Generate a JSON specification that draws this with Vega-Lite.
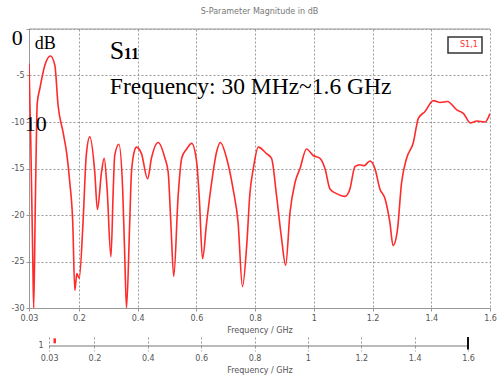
{
  "$schema": "https://vega.github.io/schema/vega-lite/v6.json",
  "background": "white",
  "padding": {"left": 10, "top": 7, "right": 5, "bottom": 2},
  "spacing": 2,
  "config": {
    "font": "DejaVu Sans",
    "view": {"stroke": null},
    "axis": {
      "labelFont": "DejaVu Sans", "labelFontSize": 8, "labelColor": "#555",
      "titleFont": "DejaVu Sans", "titleFontSize": 8, "titleColor": "#555", "titleFontWeight": "normal",
      "domainColor": "#999", "tickColor": "#999", "gridColor": "#999", "gridDash": [2, 2], "gridWidth": 1
    },
    "legend": {
      "orient": "top-right", "offset": 8, "strokeColor": "#333", "strokeWidth": 1.5, "fillColor": "white",
      "padding": 4, "labelFontSize": 8, "labelColor": "#ff3030", "labelFont": "DejaVu Sans",
      "symbolSize": 0, "symbolStrokeWidth": 0, "symbolOpacity": 0, "labelOffset": 0, "symbolOffset": 0
    }
  },
  "datasets": {
    "s11": [
      {"f": 0.030, "dB": -3.7}, {"f": 0.036, "dB": -12}, {"f": 0.043, "dB": -25}, {"f": 0.046, "dB": -30},
      {"f": 0.051, "dB": -20}, {"f": 0.055, "dB": -12}, {"f": 0.058, "dB": -8}, {"f": 0.067, "dB": -6.4},
      {"f": 0.084, "dB": -3.9}, {"f": 0.103, "dB": -2.9}, {"f": 0.118, "dB": -3.9}, {"f": 0.129, "dB": -8.2},
      {"f": 0.146, "dB": -11.1}, {"f": 0.159, "dB": -13.5}, {"f": 0.169, "dB": -16.5}, {"f": 0.179, "dB": -20.8},
      {"f": 0.186, "dB": -28.1}, {"f": 0.193, "dB": -26.3}, {"f": 0.201, "dB": -26.8}, {"f": 0.214, "dB": -20.8},
      {"f": 0.225, "dB": -13.6}, {"f": 0.237, "dB": -11.6}, {"f": 0.254, "dB": -15.4}, {"f": 0.263, "dB": -19.4},
      {"f": 0.277, "dB": -15.4}, {"f": 0.286, "dB": -13.9}, {"f": 0.296, "dB": -17.2}, {"f": 0.309, "dB": -24.5},
      {"f": 0.317, "dB": -17.2}, {"f": 0.322, "dB": -13.6}, {"f": 0.336, "dB": -12.4}, {"f": 0.349, "dB": -17.2},
      {"f": 0.356, "dB": -24.3}, {"f": 0.362, "dB": -30}, {"f": 0.373, "dB": -20.8}, {"f": 0.379, "dB": -15.4},
      {"f": 0.390, "dB": -13}, {"f": 0.396, "dB": -12.7}, {"f": 0.413, "dB": -13.4}, {"f": 0.434, "dB": -16.1},
      {"f": 0.447, "dB": -13.9}, {"f": 0.470, "dB": -12.2}, {"f": 0.493, "dB": -13.9}, {"f": 0.504, "dB": -15.4},
      {"f": 0.513, "dB": -20.8}, {"f": 0.523, "dB": -26.6}, {"f": 0.538, "dB": -17.9}, {"f": 0.550, "dB": -13.9},
      {"f": 0.567, "dB": -12.9}, {"f": 0.584, "dB": -12.3}, {"f": 0.601, "dB": -14.3}, {"f": 0.610, "dB": -18.2},
      {"f": 0.621, "dB": -24.7}, {"f": 0.635, "dB": -20.8}, {"f": 0.652, "dB": -16.5}, {"f": 0.669, "dB": -13.2},
      {"f": 0.682, "dB": -12.2}, {"f": 0.703, "dB": -13.9}, {"f": 0.725, "dB": -17.2}, {"f": 0.742, "dB": -20.8},
      {"f": 0.757, "dB": -27.7}, {"f": 0.772, "dB": -23}, {"f": 0.782, "dB": -17.8}, {"f": 0.794, "dB": -15},
      {"f": 0.811, "dB": -12.7}, {"f": 0.839, "dB": -13.4}, {"f": 0.856, "dB": -13.9}, {"f": 0.873, "dB": -17.9},
      {"f": 0.890, "dB": -22.5}, {"f": 0.904, "dB": -25.4}, {"f": 0.919, "dB": -19.7}, {"f": 0.936, "dB": -16.5},
      {"f": 0.953, "dB": -15}, {"f": 0.975, "dB": -12.9}, {"f": 0.998, "dB": -13.6}, {"f": 1.021, "dB": -13.9},
      {"f": 1.038, "dB": -15}, {"f": 1.055, "dB": -17.2}, {"f": 1.078, "dB": -17.7}, {"f": 1.106, "dB": -18},
      {"f": 1.123, "dB": -17.2}, {"f": 1.140, "dB": -14.8}, {"f": 1.157, "dB": -14.6}, {"f": 1.171, "dB": -14.7},
      {"f": 1.191, "dB": -14.2}, {"f": 1.208, "dB": -15}, {"f": 1.225, "dB": -17.2}, {"f": 1.242, "dB": -18.2},
      {"f": 1.259, "dB": -20.8}, {"f": 1.270, "dB": -23.3}, {"f": 1.284, "dB": -21.8}, {"f": 1.299, "dB": -16.5},
      {"f": 1.316, "dB": -13.9}, {"f": 1.339, "dB": -12.2}, {"f": 1.356, "dB": -9.6}, {"f": 1.378, "dB": -8.9},
      {"f": 1.407, "dB": -7.7}, {"f": 1.430, "dB": -7.9}, {"f": 1.455, "dB": -7.8}, {"f": 1.487, "dB": -8.7},
      {"f": 1.510, "dB": -9.1}, {"f": 1.533, "dB": -10.1}, {"f": 1.555, "dB": -9.9}, {"f": 1.583, "dB": -10},
      {"f": 1.600, "dB": -9.1}
    ],
    "notes": [
      {"label": "0", "f": -0.0286, "dB": -1.72, "kind": "big"},
      {"label": "10", "f": 0.0157, "dB": -10.97, "kind": "big"},
      {"label": "Frequency: 30 MHz~1.6 GHz", "f": 0.3053, "dB": -6.99, "kind": "freq"},
      {"label": "dB", "f": 0.0498, "dB": -2.15, "kind": "mid"},
      {"label": "S", "f": 0.3053, "dB": -3.23, "kind": "sym"},
      {"label": "11", "f": 0.353, "dB": -3.23, "kind": "sub"}
    ]
  },
  "vconcat": [
    {
      "width": 461,
      "height": 279,
      "title": {"text": "S-Parameter Magnitude in dB", "fontSize": 8, "color": "#777", "font": "DejaVu Sans", "fontWeight": "normal", "offset": 11},
      "layer": [
        {
          "data": {"values": [{"a": 0.03, "b": 1.6, "y": 0}]},
          "mark": {"type": "rule", "color": "#999", "strokeWidth": 1},
          "encoding": {
            "x": {"field": "a", "type": "quantitative"},
            "x2": {"field": "b"},
            "y": {"field": "y", "type": "quantitative"}
          }
        },
        {
          "data": {"name": "s11"},
          "mark": {"type": "line", "strokeWidth": 1.6, "interpolate": "monotone", "clip": true},
          "encoding": {
            "x": {
              "field": "f", "type": "quantitative",
              "scale": {"domain": [0.03, 1.6], "nice": false, "zero": false},
              "axis": {"values": [0.03, 0.2, 0.4, 0.6, 0.8, 1, 1.2, 1.4, 1.6], "labelExpr": "'' + datum.value", "title": "Frequency / GHz", "tickSize": 3, "labelPadding": 3, "titlePadding": 4, "labelFlush": false}
            },
            "y": {
              "field": "dB", "type": "quantitative",
              "scale": {"domain": [-30, 0], "nice": false, "zero": false},
              "axis": {"values": [-30, -25, -20, -15, -10, -5, 0], "labelExpr": "datum.value == 0 ? '' : '' + datum.value", "title": null, "tickSize": 3, "labelPadding": 2}
            },
            "color": {"datum": "S1,1", "scale": {"range": ["#ff2a2a"]}, "legend": {"title": null}}
          }
        },
        {
          "data": {"name": "notes"},
          "transform": [{"filter": "datum.kind == 'big'"}],
          "mark": {"type": "text", "font": "Liberation Serif", "fontSize": 22, "align": "left", "baseline": "alphabetic", "color": "black"},
          "encoding": {
            "x": {"field": "f", "type": "quantitative"},
            "y": {"field": "dB", "type": "quantitative"},
            "text": {"field": "label"}
          }
        },
        {
          "data": {"name": "notes"},
          "transform": [{"filter": "datum.kind == 'freq'"}],
          "mark": {"type": "text", "font": "Liberation Serif", "fontSize": 23.5, "align": "left", "baseline": "alphabetic", "color": "black"},
          "encoding": {
            "x": {"field": "f", "type": "quantitative"},
            "y": {"field": "dB", "type": "quantitative"},
            "text": {"field": "label"}
          }
        },
        {
          "data": {"name": "notes"},
          "transform": [{"filter": "datum.kind == 'mid'"}],
          "mark": {"type": "text", "font": "Liberation Serif", "fontSize": 18, "align": "left", "baseline": "alphabetic", "color": "black"},
          "encoding": {
            "x": {"field": "f", "type": "quantitative"},
            "y": {"field": "dB", "type": "quantitative"},
            "text": {"field": "label"}
          }
        },
        {
          "data": {"name": "notes"},
          "transform": [{"filter": "datum.kind == 'sym'"}],
          "mark": {"type": "text", "font": "Liberation Serif", "fontSize": 26, "align": "left", "baseline": "alphabetic", "color": "black"},
          "encoding": {
            "x": {"field": "f", "type": "quantitative"},
            "y": {"field": "dB", "type": "quantitative"},
            "text": {"field": "label"}
          }
        },
        {
          "data": {"name": "notes"},
          "transform": [{"filter": "datum.kind == 'sub'"}],
          "mark": {"type": "text", "font": "Liberation Serif", "fontSize": 16, "fontWeight": "bold", "align": "left", "baseline": "alphabetic", "color": "black"},
          "encoding": {
            "x": {"field": "f", "type": "quantitative"},
            "y": {"field": "dB", "type": "quantitative"},
            "text": {"field": "label"}
          }
        }
      ]
    },
    {
      "width": 461,
      "height": 9,
      "layer": [
        {
          "data": {"values": [{"a": 0.03, "b": 1.6, "y": 0}]},
          "mark": {"type": "rule", "color": "#777", "strokeWidth": 1},
          "encoding": {
            "x": {
              "field": "a", "type": "quantitative",
              "scale": {"domain": [-0.0454, 1.6825], "nice": false, "zero": false},
              "axis": {"values": [0.03, 0.2, 0.4, 0.6, 0.8, 1, 1.2, 1.4, 1.6], "labelExpr": "'' + datum.value", "title": "Frequency / GHz", "domain": false, "grid": true, "tickSize": 5, "tickDash": [2, 2], "labelPadding": 3, "titlePadding": 4}
            },
            "x2": {"field": "b"},
            "y": {"field": "y", "type": "quantitative", "scale": {"domain": [0, 1]}, "axis": null}
          }
        },
        {
          "data": {"values": [{"a": 1.6, "lo": -0.4, "hi": 1}]},
          "mark": {"type": "rule", "color": "#111", "strokeWidth": 2},
          "encoding": {
            "x": {"field": "a", "type": "quantitative"},
            "y": {"field": "lo", "type": "quantitative"},
            "y2": {"field": "hi"}
          }
        },
        {
          "data": {"values": [{"a": 0.051, "lo": 0.3, "hi": 0.85}]},
          "mark": {"type": "rule", "color": "#ff2a2a", "strokeWidth": 2.5},
          "encoding": {
            "x": {"field": "a", "type": "quantitative"},
            "y": {"field": "lo", "type": "quantitative"},
            "y2": {"field": "hi"}
          }
        },
        {
          "data": {"values": [{"a": 0.0, "y": 0, "label": "1"}]},
          "mark": {"type": "text", "fontSize": 8, "color": "#555", "align": "center", "baseline": "middle", "font": "DejaVu Sans"},
          "encoding": {
            "x": {"field": "a", "type": "quantitative"},
            "y": {"field": "y", "type": "quantitative"},
            "text": {"field": "label"}
          }
        }
      ]
    }
  ]
}
